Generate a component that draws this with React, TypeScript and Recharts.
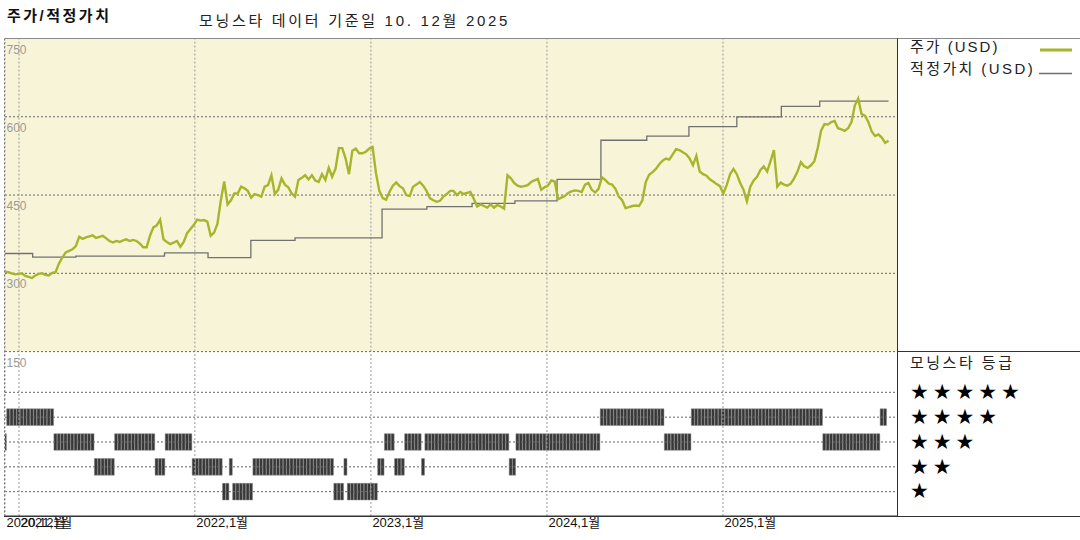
import React from 'react'
import { ComposedChart, Line, Bar, XAxis, YAxis, CartesianGrid, ReferenceLine } from 'recharts'

// x axis runs in weeks from the first sample (early Dec 2020)
const YEAR_TICKS = [0, 4.15, 56.3, 108.5, 160.7, 212.9]
const YEAR_LABELS = ['2020,12월', '2021,1월', '2022,1월', '2023,1월', '2024,1월', '2025,1월']
const X_END = 264.5

// share price (USD), one reading per week
const PRICE = [
  303, 302, 300, 298, 299, 300, 295, 293, 291, 296,
  299, 300, 297, 296, 301, 302, 319, 330, 340, 343,
  346, 352, 370, 366, 369, 371, 373, 368, 370, 372,
  367, 362, 359, 362, 360, 363, 365, 362, 364, 362,
  357, 350, 350, 372, 388, 392, 403, 365, 360, 356,
  359, 362, 351, 360, 377, 385, 393, 403, 401, 402,
  399, 372, 378, 395, 440, 476, 432, 440, 453, 453,
  466, 463, 458, 445, 452, 450, 447, 466, 469, 488,
  452, 460, 482, 470, 465, 453, 447, 479, 483, 488,
  480, 488, 478, 475, 490, 479, 502, 485, 500, 540,
  540, 520, 490, 535, 539, 530, 530, 533, 539, 542,
  492, 458, 444, 441, 456, 468, 474, 467, 463, 450,
  448, 466, 470, 475, 468, 458, 444, 440, 437, 439,
  447, 452, 458, 458, 450, 456, 452, 454, 456, 443,
  428, 432, 429, 426, 432, 426, 431, 428, 424, 488,
  482, 473, 468, 466, 467, 469, 475, 478, 481, 460,
  465, 468, 478, 476, 442, 445, 448, 454, 457, 459,
  458, 456, 470, 473, 460, 455, 462, 484, 479, 472,
  470, 462, 447, 440, 425, 427, 429, 430, 429, 440,
  475, 489, 494, 500, 509, 516, 520, 518, 528, 538,
  536, 532, 528, 520, 507, 525, 495, 490, 487, 480,
  476, 471, 467, 453, 469, 490, 500, 490, 473, 460,
  438, 466, 478, 485, 498, 505, 495, 515, 536, 466,
  474, 470, 468, 472, 482, 495, 513, 505, 502, 507,
  515, 540, 574, 586, 585, 590, 592, 578, 576, 573,
  578, 590, 622, 635, 605, 602, 590, 572, 563, 566,
  560, 550, 554,
]

// fair value (USD), holds from each change week on
const FAIR_VALUE_WEEKS = [0, 8.2, 21, 47.3, 60.2, 72.9, 86, 111.8, 125.1, 138.5, 151.2, 163.7, 176.7, 190.3, 202.8, 217, 230.2, 241.6, 262]
const FAIR_VALUE = [338, 331, 333, 339, 330, 363, 368, 423, 428, 434, 439, 480, 555, 563, 581, 600, 620, 630, 630]

// Morningstar star rating, holds from each start week on
const RATING_START_WEEKS = [0, 1, 15, 27, 33, 45, 48, 56, 65, 67, 68, 74, 98, 101, 102, 111, 113, 116, 119, 124, 125, 150, 152, 177, 196, 204, 243, 260]
const RATING_STARS = [3, 4, 3, 2, 3, 2, 3, 2, 1, 2, 1, 2, 1, 2, 1, 2, 3, 2, 3, 2, 3, 2, 3, 4, 3, 4, 3, 4]
const RATING_END_WEEK = 262

const PRICE_TICKS = [150, 300, 450, 600, 750]
const STAR_ROWS = [5, 4, 3, 2, 1]

const PRICE_COLOR = '#A6B52B'
const FAIR_COLOR = '#707070'
const KR_FONT = '"Liberation Sans", "Noto Sans CJK KR", sans-serif'

const priceData = PRICE.map((v, w) => ({ week: w, price: v }))
const fairData = FAIR_VALUE_WEEKS.map((w, i) => ({ week: w, fair: FAIR_VALUE[i] }))

const ratingData: { week: number; stars: [number, number] }[] = []
RATING_START_WEEKS.forEach((start, i) => {
  const end = i + 1 < RATING_START_WEEKS.length ? RATING_START_WEEKS[i + 1] : RATING_END_WEEK
  const s = RATING_STARS[i]
  for (let w = start; w < end; w++) ratingData.push({ week: w, stars: [s - 0.335, s + 0.335] })
})

const renderPriceTick = (props: any) => (
  <text key={props.payload.value} x={6.5} y={props.y + 15} fill="#9a9a9a" fontSize={12} fontFamily="Liberation Sans">
    {props.payload.value}
  </text>
)

const renderYearTick = (props: any) => {
  const idx = YEAR_TICKS.indexOf(props.payload.value)
  return (
    <text key={idx} x={props.x + 1.5} y={527} fill="#111" fontSize={13} fontFamily={KR_FONT}>
      {YEAR_LABELS[idx]}
    </text>
  )
}

const abs = (left: number, top: number): React.CSSProperties => ({ position: 'absolute', left, top })

export default function App() {
  return (
    <div style={{ position: 'absolute', left: 0, top: 0, width: 1080, height: 540, background: '#fff', fontFamily: KR_FONT }}>
      {/* star rating panel */}
      <div style={abs(0, 0)}>
        <ComposedChart width={1080} height={540} data={ratingData} margin={{ top: 351.6, right: 183, bottom: 0, left: 5 }}>
          <XAxis
            type="number"
            dataKey="week"
            domain={[0, X_END]}
            ticks={YEAR_TICKS}
            interval={0}
            height={24}
            tickLine={false}
            axisLine={{ stroke: '#333' }}
            tick={renderYearTick}
            allowDataOverflow
          />
          <YAxis type="number" domain={[0.02, 6.64]} hide allowDataOverflow />
          {STAR_ROWS.map(s => (
            <ReferenceLine key={'r' + s} y={s} stroke="#666" strokeDasharray="2 2" />
          ))}
          {YEAR_TICKS.map(t => (
            <ReferenceLine key={'v' + t} x={t} stroke="#999" strokeDasharray="2 2" />
          ))}
          <Bar dataKey="stars" barSize={3.4} fill="#383838" stroke="#8a8a8a" strokeWidth={0.5} isAnimationActive={false} />
        </ComposedChart>
      </div>

      {/* price / fair value panel */}
      <div style={abs(0, 0)}>
        <ComposedChart width={1080} height={540} data={priceData} margin={{ top: 38.5, right: 183, bottom: 188.4, left: 5 }}>
          <CartesianGrid vertical={false} fill="#F8F4D8" stroke="#666" strokeDasharray="2 2" />
          <XAxis type="number" dataKey="week" domain={[0, X_END]} hide allowDataOverflow />
          <YAxis
            type="number"
            domain={[150, 750]}
            ticks={PRICE_TICKS}
            interval={0}
            mirror
            width={30}
            axisLine={false}
            tickLine={false}
            tick={renderPriceTick}
            allowDataOverflow
          />
          {YEAR_TICKS.map(t => (
            <ReferenceLine key={'v' + t} x={t} stroke="#999" strokeDasharray="2 2" />
          ))}
          <Line data={fairData} dataKey="fair" type="stepAfter" stroke={FAIR_COLOR} strokeWidth={1.3} dot={false} isAnimationActive={false} />
          <Line dataKey="price" type="linear" stroke={PRICE_COLOR} strokeWidth={2.4} dot={false} isAnimationActive={false} />
        </ComposedChart>
      </div>

      {/* frame lines */}
      <svg width={1080} height={540} style={{ ...abs(0, 0), pointerEvents: 'none' }}>
        <line x1={5} y1={38.5} x2={1080} y2={38.5} stroke="#8a8a8a" />
        <line x1={4.5} y1={38.5} x2={4.5} y2={516} stroke="#777" strokeDasharray="2 2" />
        <line x1={897.5} y1={38.5} x2={897.5} y2={516} stroke="#333" />
        <line x1={897} y1={351.5} x2={1080} y2={351.5} stroke="#333" />
        <line x1={4} y1={516.5} x2={1080} y2={516.5} stroke="#333" />
        <line x1={1040} y1={50} x2={1072} y2={50} stroke={PRICE_COLOR} strokeWidth={3} />
        <line x1={1039} y1={73.5} x2={1072} y2={73.5} stroke={FAIR_COLOR} strokeWidth={1.3} />
      </svg>

      {/* titles and legend */}
      <div style={{ ...abs(7, 6), fontSize: 15, fontWeight: 700, letterSpacing: 2.5, color: '#111', lineHeight: '20px' }}>주가/적정가치</div>
      <div style={{ ...abs(199, 11), fontSize: 15, letterSpacing: 2.7, color: '#222', lineHeight: '20px' }}>모닝스타 데이터 기준일 10. 12월 2025</div>
      <div style={{ ...abs(910, 37), fontSize: 15, letterSpacing: 2, color: '#222', lineHeight: '20px' }}>주가 (USD)</div>
      <div style={{ ...abs(910, 59), fontSize: 15, letterSpacing: 2.4, color: '#222', lineHeight: '20px' }}>적정가치 (USD)</div>
      <div style={{ ...abs(910, 353), fontSize: 15, letterSpacing: 2.5, color: '#222', lineHeight: '20px' }}>모닝스타 등급</div>
      {STAR_ROWS.map((s, i) => (
        <div
          key={s}
          style={{ ...abs(910, 381 + i * 24.85), fontSize: 21, letterSpacing: 3.9, fontFamily: 'DejaVu Sans', color: '#000', lineHeight: '22px', height: 22 }}
        >
          {'★'.repeat(s)}
        </div>
      ))}
    </div>
  )
}
